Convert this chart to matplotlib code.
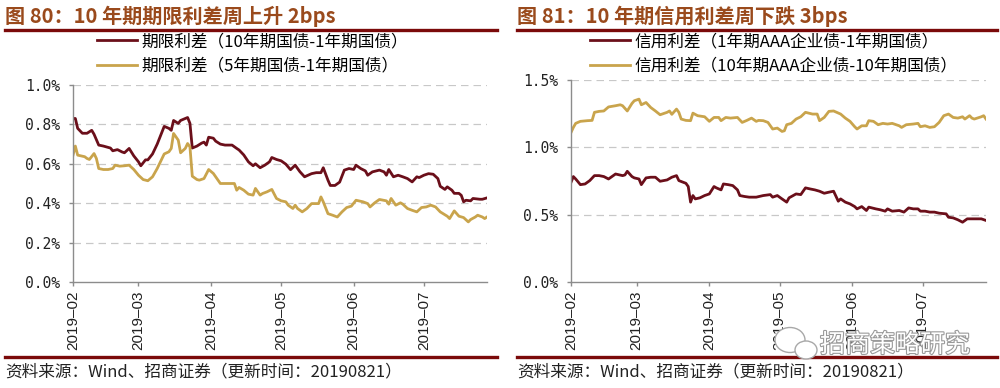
"""Two spread charts: term spread and credit spread, Feb-Jul 2019."""

import matplotlib

matplotlib.use("Agg")

import matplotlib.dates as mdates
import matplotlib.patheffects as pe
import matplotlib.pyplot as plt
import pandas as pd
from matplotlib.lines import Line2D
from matplotlib.patches import Ellipse

CJK = ["Noto Sans CJK SC", "DejaVu Sans"]
plt.rcParams["font.family"] = CJK

DARK_RED = "#6B0F1A"
GOLD = "#C9A44C"
RULE = "#7B0A0A"
TITLE_COLOR = "#9A4A1C"
AXIS_GRAY = "#8C8C8C"

# ---- left chart: term spread (%) ----
TERM_10Y_DATES = [
    "02-01", "02-02", "02-03", "02-05", "02-07", "02-09", "02-10", "02-12", "02-14", "02-17",
    "02-18", "02-20", "02-22", "02-23", "02-25", "02-27",
    "03-01", "03-02", "03-04", "03-05", "03-07", "03-09", "03-12", "03-14", "03-15", "03-16",
    "03-18", "03-19", "03-21", "03-22", "03-23", "03-24", "03-26", "03-28", "03-29", "03-30", "03-31",
    "04-02", "04-03", "04-05", "04-07", "04-10", "04-12", "04-13", "04-15", "04-17", "04-19",
    "04-20", "04-22", "04-24", "04-26", "04-27", "04-29",
    "05-01", "05-03", "05-05", "05-07", "05-09", "05-11", "05-14", "05-16", "05-18", "05-19",
    "05-21", "05-22", "05-24", "05-26", "05-28", "05-30",
    "06-01", "06-02", "06-04", "06-06", "06-07", "06-09", "06-12", "06-14", "06-15", "06-16",
    "06-18", "06-20", "06-22", "06-24", "06-26", "06-28", "06-29",
    "07-01", "07-03", "07-05", "07-07", "07-08", "07-10", "07-11", "07-13", "07-14", "07-16",
    "07-17", "07-18", "07-19", "07-21", "07-22", "07-25", "07-26", "07-28",
]
TERM_10Y = [
    0.83, 0.83, 0.78, 0.755, 0.755, 0.77, 0.75, 0.695, 0.69, 0.68,
    0.666, 0.672, 0.66, 0.656, 0.678, 0.64,
    0.61, 0.59, 0.62, 0.62, 0.65, 0.70, 0.79, 0.78, 0.77, 0.82,
    0.805, 0.82, 0.83, 0.835, 0.805, 0.68, 0.69, 0.705, 0.71, 0.695, 0.735,
    0.73, 0.715, 0.70, 0.695, 0.695, 0.678, 0.67, 0.645, 0.61, 0.59,
    0.60, 0.58, 0.593, 0.61, 0.632, 0.622,
    0.615, 0.598, 0.57, 0.593, 0.56, 0.534, 0.55, 0.555, 0.555, 0.58,
    0.517, 0.49, 0.49, 0.507, 0.568, 0.576,
    0.571, 0.593, 0.576, 0.564, 0.542, 0.559, 0.568, 0.559, 0.542, 0.571,
    0.534, 0.542, 0.534, 0.525, 0.508, 0.534, 0.53,
    0.542, 0.55, 0.547, 0.525, 0.486, 0.47, 0.483, 0.466, 0.45, 0.45,
    0.44, 0.407, 0.415, 0.412, 0.424, 0.42, 0.42, 0.427,
]

TERM_5Y_DATES = [
    "02-01", "02-02", "02-03", "02-06", "02-07", "02-08", "02-10", "02-11", "02-12", "02-14",
    "02-16", "02-18", "02-19", "02-21", "02-23", "02-25", "02-27",
    "03-01", "03-03", "03-05", "03-07", "03-09", "03-12", "03-14", "03-15", "03-16", "03-18",
    "03-19", "03-21", "03-22", "03-23", "03-24", "03-26", "03-27", "03-29", "03-31",
    "04-02", "04-03", "04-05", "04-06", "04-09", "04-11", "04-12", "04-13", "04-15", "04-17",
    "04-19", "04-20", "04-22", "04-23", "04-25", "04-27", "04-29",
    "05-01", "05-03", "05-04", "05-06", "05-07", "05-08", "05-10", "05-12", "05-14", "05-17",
    "05-18", "05-19", "05-21", "05-23", "05-25", "05-27", "05-29", "05-31",
    "06-02", "06-05", "06-07", "06-08", "06-10", "06-12", "06-15", "06-16", "06-17", "06-19",
    "06-21", "06-22", "06-24", "06-26", "06-28", "06-30",
    "07-02", "07-04", "07-06", "07-08", "07-11", "07-12", "07-14", "07-16", "07-18", "07-20",
    "07-21", "07-23", "07-24", "07-26", "07-27", "07-28",
]
TERM_5Y = [
    0.644, 0.69, 0.644, 0.636, 0.627, 0.622, 0.652, 0.627, 0.576, 0.571,
    0.571, 0.576, 0.593, 0.588, 0.59, 0.593, 0.571,
    0.542, 0.52, 0.514, 0.534, 0.576, 0.65, 0.661, 0.678, 0.754, 0.72,
    0.656, 0.678, 0.703, 0.686, 0.537, 0.52, 0.517, 0.525, 0.571,
    0.551, 0.534, 0.50, 0.50, 0.50, 0.50, 0.466, 0.48, 0.466, 0.446,
    0.441, 0.475, 0.441, 0.449, 0.458, 0.47, 0.424,
    0.412, 0.407, 0.39, 0.373, 0.39, 0.373, 0.356, 0.373, 0.398, 0.398,
    0.432, 0.407, 0.347, 0.339, 0.33, 0.356, 0.378, 0.385,
    0.415, 0.407, 0.398, 0.381, 0.402, 0.419, 0.412, 0.395, 0.424, 0.39,
    0.402, 0.395, 0.373, 0.364, 0.356, 0.378,
    0.381, 0.39, 0.381, 0.356, 0.334, 0.322, 0.361, 0.334, 0.327, 0.305,
    0.317, 0.33, 0.339, 0.33, 0.322, 0.33,
]

# ---- right chart: credit spread (%) ----
CREDIT_1Y_DATES = [
    "02-01", "02-02", "02-03", "02-05", "02-07", "02-09", "02-11", "02-13", "02-15", "02-17",
    "02-20", "02-21", "02-23", "02-24", "02-25", "02-27", "02-28",
    "03-02", "03-03", "03-05", "03-07", "03-09", "03-11", "03-14", "03-16", "03-18", "03-19",
    "03-22", "03-23", "03-24", "03-25", "03-26", "03-28", "03-30",
    "04-01", "04-03", "04-04", "04-06", "04-07", "04-09", "04-11", "04-13", "04-14", "04-16",
    "04-18", "04-21", "04-24", "04-27", "04-28", "04-30",
    "05-02", "05-04", "05-05", "05-08", "05-10", "05-12", "05-14", "05-16", "05-18", "05-20",
    "05-22", "05-24", "05-26", "05-27", "05-29", "05-31",
    "06-02", "06-03", "06-05", "06-07", "06-08", "06-11", "06-13", "06-15", "06-16", "06-18",
    "06-21", "06-23", "06-25", "06-27", "06-29", "06-30",
    "07-02", "07-04", "07-06", "07-08", "07-11", "07-12", "07-14", "07-16", "07-18", "07-20",
    "07-22", "07-24", "07-26", "07-28",
]
CREDIT_1Y = [
    0.74, 0.783, 0.765, 0.723, 0.728, 0.753, 0.79, 0.79, 0.783, 0.765,
    0.802, 0.798, 0.79, 0.795, 0.822, 0.783, 0.773,
    0.765, 0.723, 0.773, 0.778, 0.778, 0.748, 0.758, 0.778, 0.79, 0.753,
    0.733, 0.709, 0.593, 0.642, 0.617, 0.625, 0.642,
    0.654, 0.709, 0.699, 0.684, 0.728, 0.723, 0.716, 0.684, 0.642, 0.635,
    0.63, 0.63, 0.642, 0.649, 0.63, 0.642,
    0.617, 0.593, 0.625, 0.654, 0.649, 0.699, 0.691, 0.684, 0.674, 0.659,
    0.667, 0.674, 0.60, 0.617, 0.593, 0.58,
    0.56, 0.543, 0.56, 0.531, 0.556, 0.543, 0.536, 0.526, 0.543, 0.526,
    0.531, 0.519, 0.55, 0.543, 0.543, 0.526,
    0.526, 0.519, 0.519, 0.511, 0.506, 0.481, 0.476, 0.462, 0.444, 0.469,
    0.469, 0.469, 0.469, 0.457,
]

CREDIT_10Y_DATES = [
    "02-01", "02-02", "02-03", "02-05", "02-08", "02-10", "02-11", "02-13", "02-15", "02-17",
    "02-20", "02-22", "02-23", "02-25", "02-27", "02-28",
    "03-02", "03-03", "03-05", "03-07", "03-09", "03-11", "03-14", "03-15", "03-16", "03-18",
    "03-19", "03-20", "03-22", "03-24", "03-25", "03-27", "03-30",
    "04-01", "04-03", "04-05", "04-06", "04-08", "04-10", "04-13", "04-15", "04-17", "04-19",
    "04-21", "04-22", "04-24", "04-26", "04-28", "04-30",
    "05-02", "05-03", "05-04", "05-06", "05-08", "05-10", "05-12", "05-15", "05-17", "05-18",
    "05-20", "05-22", "05-24", "05-27", "05-29", "05-31",
    "06-02", "06-03", "06-05", "06-07", "06-08", "06-10", "06-12", "06-14", "06-16", "06-18",
    "06-21", "06-22", "06-24", "06-27", "06-29", "06-30",
    "07-02", "07-04", "07-06", "07-08", "07-10", "07-12", "07-14", "07-16", "07-18", "07-19",
    "07-21", "07-22", "07-23", "07-26", "07-27", "07-28",
]
CREDIT_10Y = [
    1.11, 1.148, 1.178, 1.193, 1.198, 1.20, 1.26, 1.267, 1.27, 1.30,
    1.309, 1.316, 1.309, 1.27, 1.326, 1.346,
    1.358, 1.316, 1.333, 1.296, 1.27, 1.242, 1.26, 1.27, 1.245, 1.284,
    1.26, 1.21, 1.20, 1.198, 1.254, 1.235, 1.227,
    1.193, 1.222, 1.222, 1.198, 1.222, 1.217, 1.222, 1.185, 1.20, 1.217,
    1.193, 1.20, 1.198, 1.185, 1.136, 1.143,
    1.118, 1.123, 1.168, 1.178, 1.21, 1.227, 1.26, 1.247, 1.247, 1.198,
    1.222, 1.267, 1.27, 1.247, 1.217, 1.193,
    1.153, 1.136, 1.16, 1.16, 1.198, 1.193, 1.168, 1.178, 1.173, 1.178,
    1.16, 1.148, 1.168, 1.173, 1.178, 1.153,
    1.16, 1.148, 1.153, 1.185, 1.235, 1.247, 1.222, 1.217, 1.227, 1.21,
    1.235, 1.217, 1.21, 1.227, 1.235, 1.21,
]

TITLES = ["图 80：10 年期期限利差周上升 2bps", "图 81：10 年期信用利差周下跌 3bps"]
LABELS_LEFT = ["期限利差（10年期国债-1年期国债）", "期限利差（5年期国债-1年期国债）"]
LABELS_RIGHT = ["信用利差（1年期AAA企业债-1年期国债）", "信用利差（10年期AAA企业债-10年期国债）"]
SOURCE = "资料来源：Wind、招商证券（更新时间：20190821）"
WATERMARK = "招商策略研究"


def to_dates(days):
    return pd.to_datetime(["2019-" + d for d in days])


def style_axis(ax, yticks, ymax):
    ax.set_ylim(0, ymax)
    ax.set_xlim(pd.Timestamp("2019-02-01"), pd.Timestamp("2019-07-28"))
    for side in ("top", "right"):
        ax.spines[side].set_visible(False)
    for side in ("left", "bottom"):
        ax.spines[side].set_color(AXIS_GRAY)
        ax.spines[side].set_linewidth(1.0)
    ax.set_yticks(yticks)
    ax.yaxis.set_major_formatter(lambda v, pos: f"{v:.1f}%")
    for v in yticks[1:]:
        ax.axhline(v, color="#C8C8C8", lw=0.9, dashes=(6, 4), zorder=0)
    ax.xaxis.set_major_locator(mdates.MonthLocator())
    ax.xaxis.set_major_formatter(mdates.DateFormatter("%Y–%m"))
    ax.tick_params(axis="both", colors=AXIS_GRAY, length=3, width=1.0, labelcolor="#222222")
    ax.tick_params(axis="y", pad=6, labelsize=10.5, labelfontfamily="DejaVu Sans Mono")
    ax.tick_params(axis="x", pad=3, labelsize=11, labelfontfamily="Liberation Sans",
                   labelrotation=90)


def panel_frame(fig, x0, x1, title):
    fig.text(x0 / 1000, 1 - 16 / 388, title, fontsize=14.5, fontweight="bold",
             color=TITLE_COLOR, va="center", ha="left")
    fig.add_artist(Line2D([x0 / 1000, x1 / 1000], [1 - 30 / 388] * 2, color=RULE, lw=2.4))
    fig.add_artist(Line2D([x0 / 1000, x1 / 1000], [1 - 357 / 388] * 2, color=RULE, lw=2.4))
    fig.text(x0 / 1000, 1 - 372 / 388, SOURCE, fontsize=12, color="#222222",
             va="center", ha="left")


def add_legend(fig, handles, x):
    fig.legend(handles=handles, loc="upper left", bbox_to_anchor=(x, 1 - 33 / 388),
               frameon=False, fontsize=12, handlelength=2.4, handletextpad=0.25,
               labelspacing=0.45, borderpad=0, borderaxespad=0)


def add_watermark(fig):
    # small chat-bubble icon and the account name, drawn as outlines
    for cx, cy, w, h in ((790, 340, 30, 25), (806, 350, 22, 18)):
        fig.add_artist(Ellipse((cx / 1000, 1 - cy / 388), w / 1000, h / 388,
                               transform=fig.transFigure, facecolor="white",
                               edgecolor="#A8A8A8", lw=1.0, zorder=5))
    fig.text(0.82, 1 - 345 / 388, WATERMARK, fontsize=18, color="white", va="center",
             ha="left", zorder=6,
             path_effects=[pe.withStroke(linewidth=1.6, foreground="#9A9A9A")])


def main():
    fig = plt.figure(figsize=(10.0, 3.88), dpi=100)

    # left panel
    ax1 = fig.add_axes([0.073, 1 - 282 / 388, 0.414, (282 - 85) / 388])
    l1, = ax1.plot(to_dates(TERM_10Y_DATES), TERM_10Y, color=DARK_RED, lw=2.0,
                   label=LABELS_LEFT[0])
    l2, = ax1.plot(to_dates(TERM_5Y_DATES), TERM_5Y, color=GOLD, lw=2.0, label=LABELS_LEFT[1])
    style_axis(ax1, [0.0, 0.2, 0.4, 0.6, 0.8, 1.0], 1.0)
    panel_frame(fig, 5, 497, TITLES[0])
    add_legend(fig, [l1, l2], 0.097)

    # right panel
    ax2 = fig.add_axes([0.571, 1 - 282 / 388, 0.415, (282 - 80) / 388])
    r1, = ax2.plot(to_dates(CREDIT_1Y_DATES), CREDIT_1Y, color=DARK_RED, lw=2.0,
                   label=LABELS_RIGHT[0])
    r2, = ax2.plot(to_dates(CREDIT_10Y_DATES), CREDIT_10Y, color=GOLD, lw=2.0,
                   label=LABELS_RIGHT[1])
    style_axis(ax2, [0.0, 0.5, 1.0, 1.5], 1.5)
    panel_frame(fig, 517, 997, TITLES[1])
    add_legend(fig, [r1, r2], 0.590)

    add_watermark(fig)

    fig.savefig("out.png", dpi=100)
    plt.close(fig)


if __name__ == "__main__":
    main()
